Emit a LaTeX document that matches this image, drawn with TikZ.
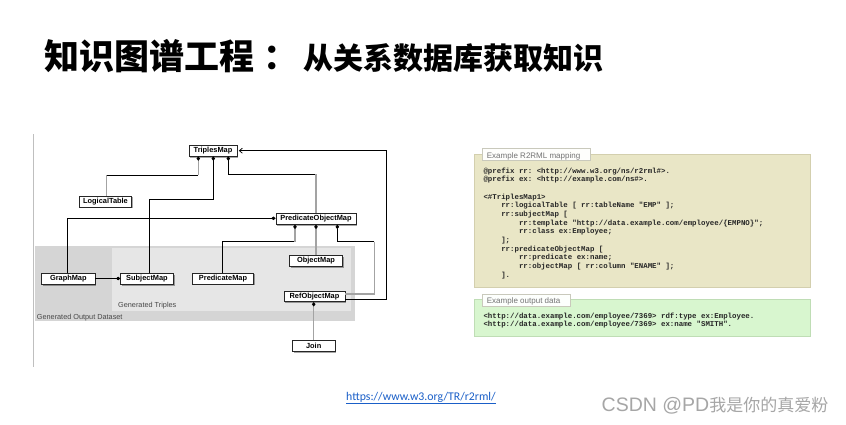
\documentclass[tikz,border=0pt]{standalone}
\usepackage{fontspec}
\setmonofont{Liberation Mono}
\newfontfamily\arial{Liberation Sans}
\newfontfamily\cjk{Noto Sans CJK SC}
\newfontfamily\calib{Carlito}
\usetikzlibrary{arrows.meta,shadows}
\definecolor{lnGray}{HTML}{A3A3A3}
\definecolor{outerGray}{HTML}{D5D5D5}
\definecolor{innerGray}{HTML}{E6E6E6}
\definecolor{mapBg}{HTML}{E9E6C6}
\definecolor{mapBd}{HTML}{D3CFAE}
\definecolor{outBg}{HTML}{D8F6CF}
\definecolor{outBd}{HTML}{BFDDB5}
\definecolor{tabBd}{HTML}{C9C9BC}
\definecolor{urlBlue}{HTML}{1A5FC8}
\definecolor{wmGray}{HTML}{A6A6A6}
\newcommand\indA{\hphantom{0000}}
\newcommand\indB{\hphantom{00000000}}
\begin{document}
\begin{tikzpicture}[x=1pt,y=-1pt,
  cls/.style={draw=black!85, line width=0.6pt, fill=white, inner sep=0pt,
    minimum height=11pt, font=\arial\bfseries\fontsize{7.4}{8}\selectfont,
    drop shadow={shadow xshift=1.2pt, shadow yshift=-1.5pt, opacity=0.35, fill=black}},
  bl/.style={draw=black, line width=0.75pt},
  gl/.style={draw=lnGray, line width=1.1pt},
  dia/.style={-{Diamond[length=4.5pt,width=3.6pt,color=black]}},
  grp/.style={anchor=base west, inner sep=0pt, font=\arial\fontsize{7.3}{8}\selectfont, text=black!72},
  tabtxt/.style={anchor=base west, inner sep=0pt, font=\arial\fontsize{8}{9}\selectfont, text=black!55},
  code/.style={anchor=base west, inner sep=0pt, font=\ttfamily\bfseries\fontsize{7.4}{8}\selectfont, text=black!85}
]
\useasboundingbox (0,0) rectangle (846,424);
\fill[white] (0,0) rectangle (846,424);

% title
\node[anchor=base west, inner sep=0pt] (title) at (44,69.5)
  {\cjk\bfseries\fontsize{35}{40}\selectfont 知识图谱工程\hspace{9pt}：\hspace{5pt}{\fontsize{30}{36}\selectfont 从关系数据库获取知识}};

% left rule
\draw[draw=black!25, line width=1pt] (33.3,134) -- (33.3,367.3);

% grey regions
\fill[outerGray] (35,246) rectangle (355,321);
\fill[innerGray] (111.7,248.3) rectangle (350.7,310.7);
\node[grp] (gtl) at (118,307.5) {Generated Triples};
\node[grp] (gods) at (36.7,319.7) {Generated Output Dataset};

% classes
\node[cls, minimum width=48pt] (tm) at (213,150.5) {TriplesMap};
\node[cls, minimum width=52.4pt] (lt) at (105.5,201.3) {LogicalTable};
\node[cls, minimum width=80pt] (pom) at (316,218.8) {PredicateObjectMap};
\node[cls, minimum width=53.3pt] (gm) at (68.3,278.5) {GraphMap};
\node[cls, minimum width=52.6pt] (sm) at (147,278.5) {SubjectMap};
\node[cls, minimum width=60.6pt] (pm) at (223,278.3) {PredicateMap};
\node[cls, minimum width=53.4pt] (om) at (316,260.5) {ObjectMap};
\node[cls, minimum width=61pt, minimum height=10pt] (rom) at (314.5,296.7) {RefObjectMap};
\node[cls, minimum width=42.7pt] (jn) at (313.7,345.5) {Join};

% bend points
\coordinate (a1) at (106.7,175);
\coordinate (a2) at (198.3,175);
\coordinate (b1) at (149.3,199.3);
\coordinate (b2) at (213.3,199.3);
\coordinate (c1) at (228.3,174.3);
\coordinate (c2) at (316,174.3);
\coordinate (d1) at (67.7,218.3);
\coordinate (e1) at (222.7,241.7);
\coordinate (e2) at (295,241.7);
\coordinate (f1) at (337.3,241.7);
\coordinate (f2) at (374.3,241.7);
\coordinate (f3) at (374.3,294);
\coordinate (g1) at (386.7,299);
\coordinate (g2) at (386.7,150.7);

% connectors
\draw[gl] (a1 |- lt.north) -- (a1);
\draw[bl] (a1) -- (a2);
\draw[gl,dia] (a2) -- (a2 |- tm.south);

\draw[bl,dia] (b1 |- sm.north) -- (b1) -- (b2) -- (b2 |- tm.south);

\draw[bl,dia] (c1) -- (c1 |- tm.south);
\draw[bl] (c1) -- (c2);
\draw[gl] (c2) -- (c2 |- pom.north);

\draw[bl,dia] (d1 |- gm.north) -- (d1) -- (d1 -| pom.west);

\draw[bl,dia] (gm.east) -- (sm.west);

\draw[bl] (e1 |- pm.north) -- (e1) -- (e2);
\draw[gl,dia] (e2) -- (e2 |- pom.south);

\draw[gl,dia] (om.north) -- (om.north |- pom.south);

\draw[gl] (f3 -| rom.east) -- (f3) -- (f2);
\draw[bl] (f2) -- (f1);
\draw[bl,dia] (f1) -- (f1 |- pom.south);

\draw[bl, -{Straight Barb[length=3pt,width=5pt]}, shorten >=1.5pt] (g1 -| rom.east) -- (g1) -- (g2) -- (g2 -| tm.east);

\draw[gl,dia] (jn.north) -- (jn.north |- rom.south);

% mapping panel
\draw[mapBd, fill=mapBg, line width=0.6pt] (474,154) rectangle (810,287.3);
\draw[tabBd, fill=white!95!mapBg, line width=0.6pt] (482.7,148.3) rectangle (590.7,160.7);
\node[tabtxt] (t1) at (486.7,158) {Example R2RML mapping};
\node[code] (m1) at (483.3,173) {@prefix rr: <http://www.w3.org/ns/r2rml\#>.};
\node[code] (m2) at (483.3,181.7) {@prefix ex: <http://example.com/ns\#>.};
\node[code] (m3) at (483.3,199) {<\#TriplesMap1>};
\node[code] (m4) at (483.3,207.7) {\indA rr:logicalTable [ rr:tableName "EMP" ];};
\node[code] (m5) at (483.3,216.4) {\indA rr:subjectMap [};
\node[code] (m6) at (483.3,225.1) {\indB rr:template "http://data.example.com/employee/\{EMPNO\}";};
\node[code] (m7) at (483.3,233.8) {\indB rr:class ex:Employee;};
\node[code] (m8) at (483.3,242.5) {\indA ];};
\node[code] (m9) at (483.3,251.2) {\indA rr:predicateObjectMap [};
\node[code] (m10) at (483.3,259.9) {\indB rr:predicate ex:name;};
\node[code] (m11) at (483.3,268.6) {\indB rr:objectMap [ rr:column "ENAME" ];};
\node[code] (m12) at (483.3,277.3) {\indA ].};

% output panel
\draw[outBd, fill=outBg, line width=0.6pt] (474,299.3) rectangle (810,336.7);
\draw[tabBd, fill=white!95!outBg, line width=0.6pt] (482.7,294) rectangle (570,306.7);
\node[tabtxt] (t2) at (486.7,303.5) {Example output data};
\node[code] (o1) at (483.3,318.2) {<http://data.example.com/employee/7369> rdf:type ex:Employee.};
\node[code] (o2) at (483.3,326.5) {<http://data.example.com/employee/7369> ex:name "SMITH".};

% url
\node[anchor=base west, inner sep=0pt, font=\calib\fontsize{11.8}{13}\selectfont, text=urlBlue] (url) at (346,400.5) {https://www.w3.org/TR/r2rml/};
\draw[urlBlue, line width=0.6pt] ([yshift=-2.3pt]url.base west) -- ([yshift=-2.3pt]url.base east);

% watermark
\node[anchor=base west, inner sep=0pt, text=wmGray] (wm) at (601.5,411.5) {\arial\fontsize{19.5}{22}\selectfont CSDN @PD\cjk\fontsize{17}{20}\selectfont 我是你的真爱粉};
\end{tikzpicture}
\end{document}
